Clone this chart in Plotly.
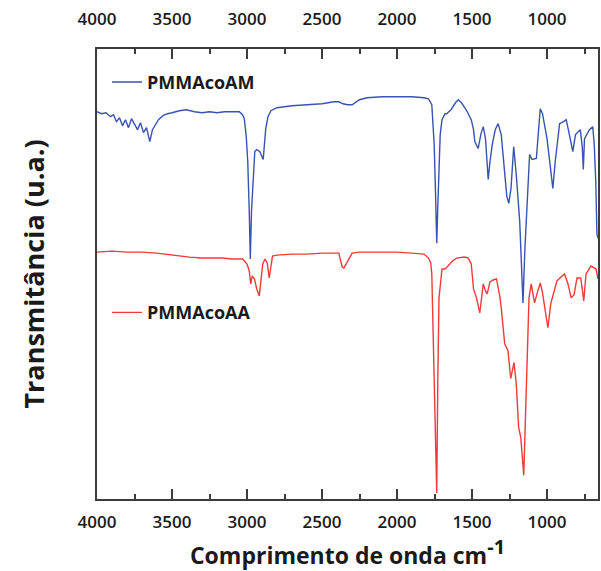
import plotly.graph_objects as go

# Wavenumber (cm^-1) and transmittance (a.u.)
wn_am = [4000, 3970, 3940, 3910, 3890, 3870, 3850, 3830, 3810, 3790, 3770, 3750, 3730, 3710, 3690, 3670,
         3648, 3630, 3610, 3590, 3560, 3530, 3500, 3450, 3405, 3350, 3300, 3250, 3200, 3150, 3100, 3051,
         3030, 3018, 3005, 2995, 2985, 2978, 2970, 2960, 2948, 2935, 2915, 2892, 2875, 2860, 2841, 2800,
         2700, 2600, 2500, 2420, 2388, 2360, 2330, 2299, 2250, 2200, 2100, 2000, 1900, 1820, 1790, 1768,
         1752, 1742, 1735, 1728, 1720, 1712, 1700, 1680, 1669, 1640, 1610, 1591, 1570, 1555, 1540, 1525,
         1505, 1490, 1481, 1459, 1440, 1425, 1410, 1400, 1392, 1380, 1365, 1345, 1326, 1305, 1295, 1282,
         1268, 1255, 1240, 1222, 1205, 1182, 1170, 1160, 1148, 1135, 1116, 1100, 1080, 1071, 1045, 1030,
         1000, 980, 961, 945, 916, 890, 872, 855, 828, 810, 778, 765, 758, 750, 717, 695, 685, 675, 667, 660]
t_am = [389, 387, 388, 384, 386, 379, 383, 375, 381, 373, 382, 377, 371, 378, 368, 373,
        359, 371, 376, 381, 385, 387, 388, 390, 391, 389, 388, 389, 388, 389, 389, 389,
        386, 382, 364, 339, 289, 241, 289, 322, 349, 351, 349, 341, 372, 384, 390, 393,
        395, 396, 397, 399, 399, 397, 396, 396, 401, 403, 404, 404, 404, 403, 402, 396,
        356, 300, 257, 294, 330, 366, 381, 387, 387, 391, 398, 401, 398, 395, 391, 387,
        381, 371, 359, 352, 367, 374, 362, 339, 321, 339, 356, 371, 377, 366, 349, 326,
        304, 297, 312, 354, 326, 279, 229, 197, 249, 289, 346, 341, 342, 342, 392, 387,
        362, 334, 312, 339, 377, 379, 381, 369, 349, 366, 371, 354, 331, 362, 371, 374, 356, 319, 266, 262]

wn_aa = [4000, 3900, 3800, 3700, 3604, 3500, 3383, 3300, 3162, 3100, 3029, 3000, 2985, 2975, 2965, 2950,
         2935, 2918, 2905, 2895, 2880, 2865, 2852, 2840, 2830, 2800, 2700, 2600, 2500, 2420, 2388, 2375,
         2365, 2354, 2340, 2332, 2310, 2299, 2250, 2100, 2000, 1900, 1820, 1790, 1775, 1768, 1755, 1745,
         1735, 1728, 1720, 1700, 1680, 1660, 1630, 1603, 1550, 1525, 1505, 1490, 1470, 1448, 1425, 1410,
         1399, 1380, 1360, 1337, 1315, 1305, 1282, 1260, 1242, 1220, 1205, 1189, 1175, 1155, 1140, 1120,
         1105, 1083, 1065, 1045, 1030, 994, 975, 934, 900, 883, 860, 839, 820, 800, 775, 755, 740, 707, 673, 660]
t_aa = [248, 249, 248, 248, 247, 245, 243, 242, 242, 241, 241, 236, 229, 216, 224, 221,
        211, 204, 219, 236, 241, 237, 222, 237, 244, 245, 246, 246, 247, 247, 247, 239,
        233, 232, 236, 237, 244, 247, 248, 248, 248, 247, 246, 242, 237, 226, 136, 69,
        6, 119, 202, 231, 231, 234, 239, 242, 243, 242, 236, 211, 202, 187, 216, 209,
        206, 218, 220, 221, 204, 192, 156, 149, 121, 137, 116, 72, 62, 24, 102, 202,
        216, 197, 207, 217, 207, 172, 196, 219, 224, 226, 216, 202, 205, 222, 222, 199, 226, 234, 231, 221]

x_ticks = [1000, 1500, 2000, 2500, 3000, 3500, 4000]
x_range = [4000, 660]
y_range = [0, 452]

BLUE = "#3a52b0"
RED = "#f23a3a"
AXIS = "#3c3c3c"
FONT = "Open Sans"

fig = go.Figure()
fig.add_trace(go.Scatter(x=wn_am, y=t_am, mode="lines", name="PMMAcoAM",
                         line=dict(color=BLUE, width=1.4), xaxis="x2", yaxis="y", legend="legend"))
fig.add_trace(go.Scatter(x=wn_aa, y=t_aa, mode="lines", name="PMMAcoAA",
                         line=dict(color=RED, width=1.4), xaxis="x", yaxis="y", legend="legend2"))

axis_common = dict(
    range=x_range, tickvals=x_ticks, ticks="inside", ticklen=10, tickwidth=1.5, tickcolor=AXIS,
    showline=True, linecolor=AXIS, linewidth=1.5, showgrid=False, zeroline=False,
    tickfont=dict(family=FONT, size=17, color="#1a1a1a", weight=600),
    minor=dict(dtick=250, tick0=0, ticks="inside", ticklen=5, tickwidth=1.5, tickcolor=AXIS, showgrid=False),
)

fig.update_layout(
    width=601, height=571,
    margin=dict(l=97, r=1, t=49, b=72),
    paper_bgcolor="white", plot_bgcolor="white",
    font=dict(family=FONT, color="#1a1a1a"),
    xaxis=dict(**axis_common, side="bottom", ticklabelstandoff=7,
               title=dict(text="Comprimento de onda cm<sup><span style='font-size:20px'>-1</span></sup>",
                          font=dict(family=FONT, size=23, weight=700), standoff=7)),
    xaxis2=dict(**axis_common, side="top", overlaying="x", anchor="y", ticklabelstandoff=15),
    yaxis=dict(range=y_range, showticklabels=False, ticks="", showline=True, mirror=True,
               linecolor=AXIS, linewidth=1.5, showgrid=False, zeroline=False,
               title=dict(text="Transmitância (u.a.)", font=dict(family=FONT, size=27, weight=700),
                          standoff=43)),
    showlegend=True,
    legend=dict(x=0.02, y=0.926, xanchor="left", yanchor="middle", bgcolor="rgba(0,0,0,0)",
                font=dict(family=FONT, size=18, weight=700, color="#1a1a1a")),
    legend2=dict(x=0.02, y=0.414, xanchor="left", yanchor="middle", bgcolor="rgba(0,0,0,0)",
                 font=dict(family=FONT, size=18, weight=700, color="#1a1a1a")),
)

fig.write_html("out.html")
